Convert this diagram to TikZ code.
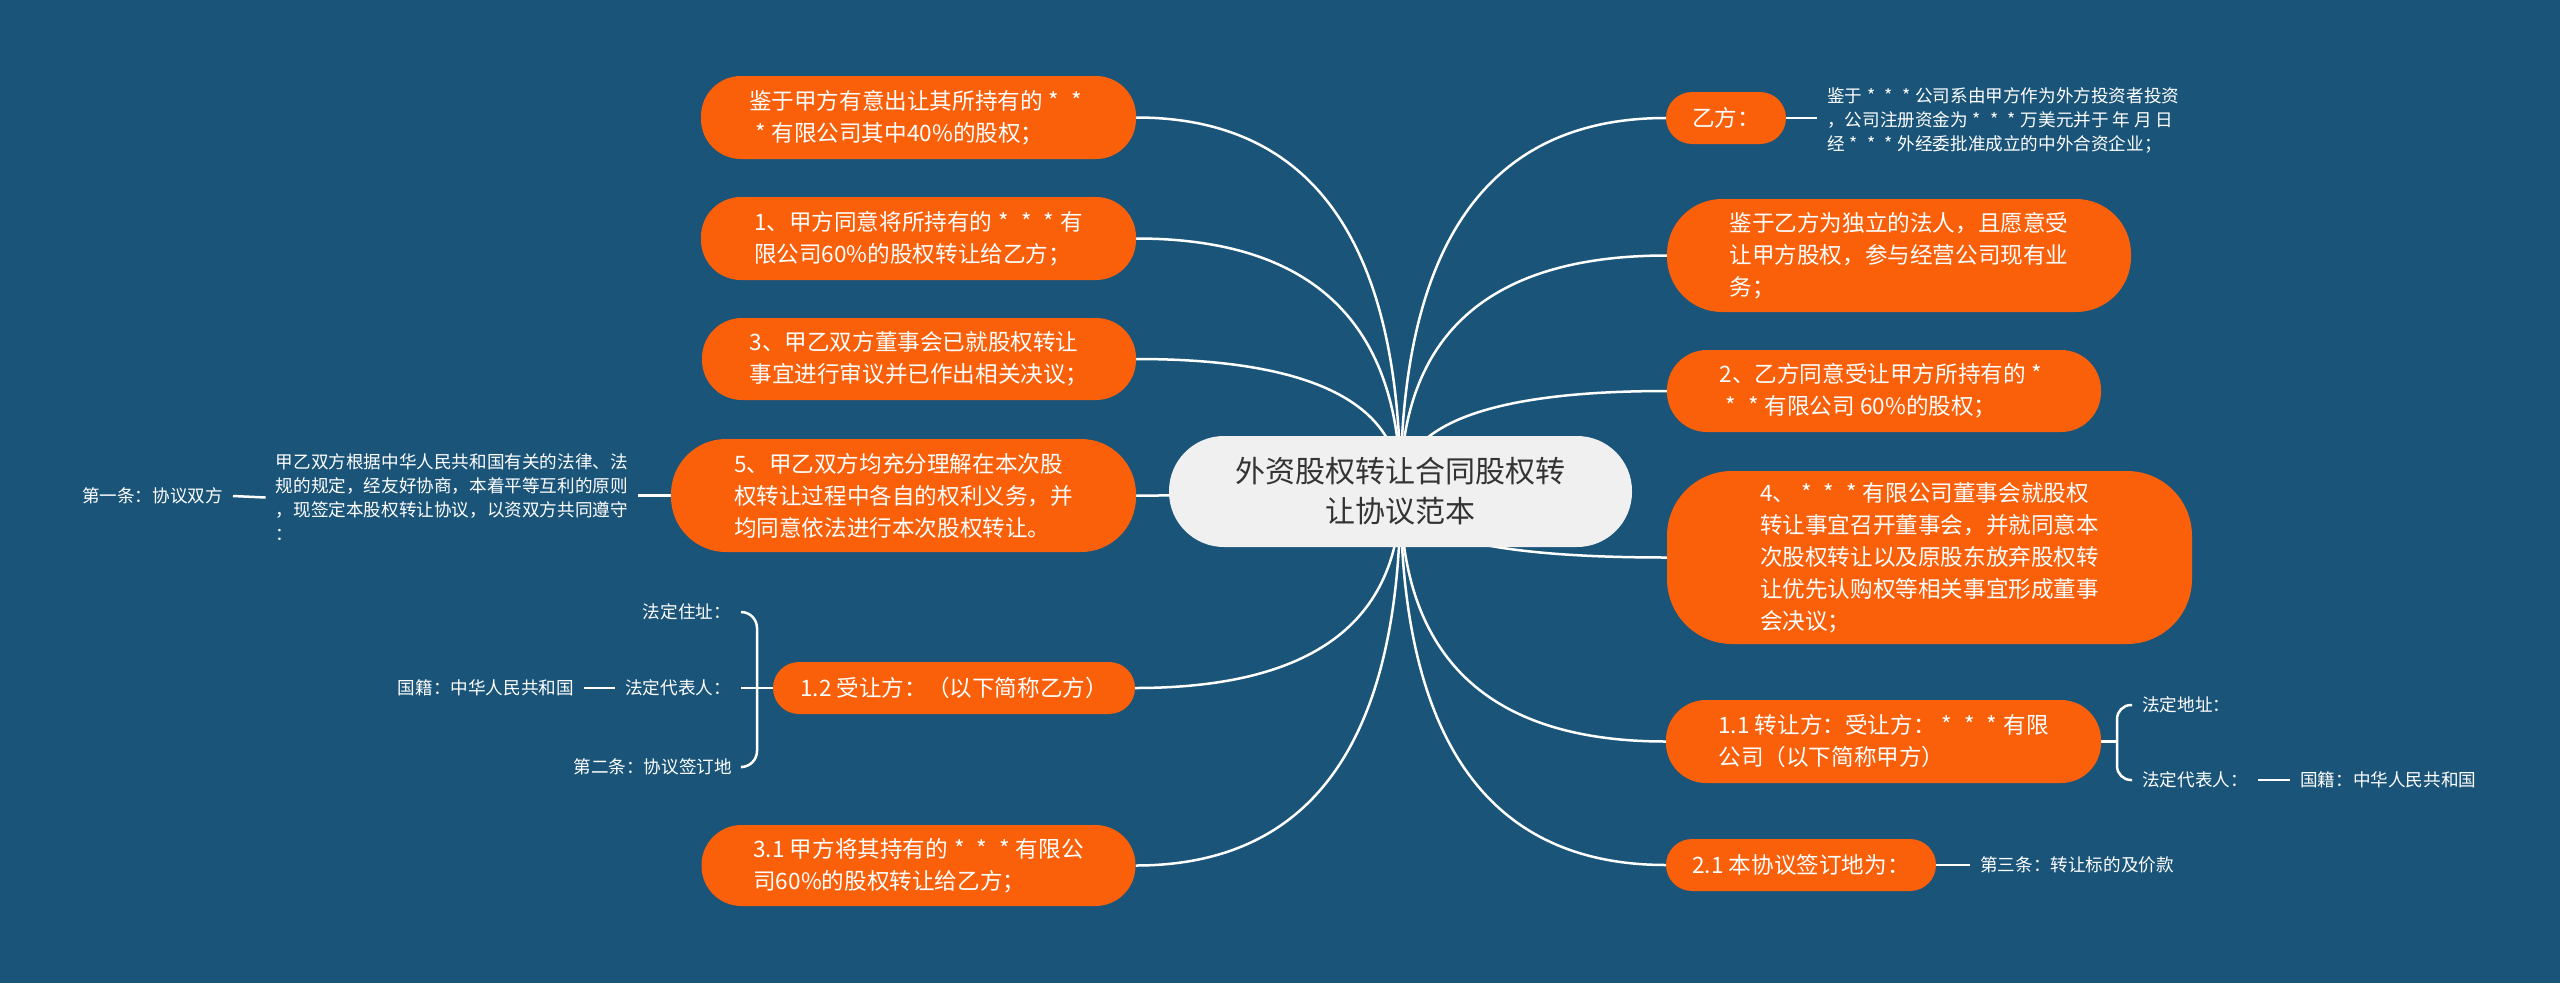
\documentclass[tikz,border=0pt]{standalone}
\usepackage{fontspec}
\setmainfont{Noto Sans CJK SC}
\usetikzlibrary{calc}
\definecolor{bgblue}{HTML}{1A5479}
\definecolor{ornge}{HTML}{FA5F0A}
\definecolor{rootfill}{HTML}{F0F0F0}
\definecolor{roottext}{HTML}{333333}
\pgfdeclarelayer{back}
\pgfdeclarelayer{links}
\pgfsetlayers{back,links,main}
\newcommand\mmlink[1]{%
  \draw[link] (root.center) .. controls ($(root.center)!0.667!(root.center|-#1)$) and ($(#1)!0.667!(root.center|-#1)$) .. (#1);}
\newcommand\st{\makebox[1em]{*}}
\begin{document}
\begin{tikzpicture}[x=1pt,y=-1pt,
  link/.style={draw=white, line width=2.5pt},
  obox/.style={fill=ornge, text=white, rounded corners=#1, align=left, inner sep=0pt, font=\fontsize{22.6}{32}\selectfont},
  obox/.default=40pt,
  leaf/.style={text=white, align=left, inner xsep=10pt, inner ysep=2pt, font=\fontsize{17.6}{24}\selectfont},
  rootbox/.style={fill=rootfill, text=roottext, rounded corners=55pt, align=center, inner sep=0pt, font=\fontsize{30}{40}\selectfont}]
\useasboundingbox (0,0) rectangle (2560,983);
\begin{pgfonlayer}{back}
\fill[bgblue] (0,0) rectangle (2560,983);
\end{pgfonlayer}

% root
\node[rootbox, minimum width=463pt, minimum height=111pt] (root) at (1400.5,491.5) {外资股权转让合同股权转\\让协议范本};

% left main nodes
\node[obox, minimum width=435pt, minimum height=83pt] (L1) at (918.5,117.5) {鉴于甲方有意出让其所持有的\st\st\\\st 有限公司其中40\%的股权；};
\node[obox, minimum width=435pt, minimum height=83pt] (L2) at (918.5,238.5) {1、甲方同意将所持有的\st\st\st 有\\限公司60\%的股权转让给乙方；};
\node[obox, minimum width=434pt, minimum height=82pt] (L3) at (919,359) {3、甲乙双方董事会已就股权转让\\事宜进行审议并已作出相关决议；};
\node[obox=55pt, minimum width=465pt, minimum height=113pt] (L4) at (903.5,495.5) {5、甲乙双方均充分理解在本次股\\权转让过程中各自的权利义务，并\\均同意依法进行本次股权转让。};
\node[obox=26pt, minimum width=362pt, minimum height=52pt] (L5) at (954,688) {1.2 受让方：（以下简称乙方）};
\node[obox, minimum width=434pt, minimum height=81pt] (L6) at (918.5,865.5) {3.1 甲方将其持有的\st\st\st 有限公\\司60\%的股权转让给乙方；};

% right main nodes
\node[obox=26pt, minimum width=120pt, minimum height=52pt] (R1) at (1726,118) {乙方：};
\node[obox=55pt, minimum width=464pt, minimum height=113pt] (R2) at (1899,255.5) {鉴于乙方为独立的法人，且愿意受\\让甲方股权，参与经营公司现有业\\务；};
\node[obox, minimum width=434pt, minimum height=82pt] (R3) at (1884,391) {2、乙方同意受让甲方所持有的\st\\\st\st 有限公司 60\%的股权；};
\node[obox=65pt, minimum width=525pt, minimum height=173pt] (R4) at (1929.5,557.5) {4、\st\st\st 有限公司董事会就股权\\转让事宜召开董事会，并就同意本\\次股权转让以及原股东放弃股权转\\让优先认购权等相关事宜形成董事\\会决议；};
\node[obox, minimum width=435pt, minimum height=83pt] (R5) at (1883.5,741.5) {1.1 转让方：受让方：\st\st\st 有限\\公司（以下简称甲方）};
\node[obox=26pt, minimum width=270pt, minimum height=52pt] (R6) at (1801,865) {2.1 本协议签订地为：};

% leaves left
\node[leaf, anchor=east] (p1) at (638,497.5) {甲乙双方根据中华人民共和国有关的法律、法\\规的规定，经友好协商，本着平等互利的原则\\，现签定本股权转让协议，以资双方共同遵守\\：};
\node[leaf, anchor=east] (p0) at (233,496) {第一条：协议双方};
\node[leaf, anchor=east] (a1) at (741,612) {法定住址：};
\node[leaf, anchor=east] (a2) at (741,688) {法定代表人：};
\node[leaf, anchor=east] (a3) at (742,767) {第二条：协议签订地};
\node[leaf, anchor=east] (a4) at (584,688) {国籍：中华人民共和国};

% leaves right
\node[leaf, anchor=west] (r1t) at (1817,120) {鉴于\st\st\st 公司系由甲方作为外方投资者投资\\，公司注册资金为\st\st\st 万美元并于 年 月 日\\经\st\st\st 外经委批准成立的中外合资企业；};
\node[leaf, anchor=west] (d1) at (2132,705) {法定地址：};
\node[leaf, anchor=west] (d2) at (2132,780) {法定代表人：};
\node[leaf, anchor=west] (d3) at (2290,780) {国籍：中华人民共和国};
\node[leaf, anchor=west] (e1) at (1970,865) {第三条：转让标的及价款};

\coordinate (lb) at (757,688);
\coordinate (rb) at (2117,741.5);

\begin{pgfonlayer}{links}
\mmlink{L1.east}
\mmlink{L2.east}
\mmlink{L3.east}
\mmlink{L4.east}
\mmlink{L5.east}
\mmlink{L6.east}
\mmlink{R1.west}
\mmlink{R2.west}
\mmlink{R3.west}
\mmlink{R4.west}
\mmlink{R5.west}
\mmlink{R6.west}
\draw[link] (L4.west) -- (L4.west -| p1.east);
\draw[link] (p0.east) -- (p1.west);
\draw[link, rounded corners=16pt] (a1.east) -| (lb) |- (a3.east);
\draw[link] (a2.east) -- (L5.west);
\draw[link] (a4.east) -- (a2.west);
\draw[link] (R1.east) -- (R1.east -| r1t.west);
\draw[link, rounded corners=14pt] (d1.west) -| (rb) |- (d2.west);
\draw[link] (R5.east) -- (rb);
\draw[link] (d2.east) -- (d3.west);
\draw[link] (R6.east) -- (e1.west);
\end{pgfonlayer}
\end{tikzpicture}
\end{document}
